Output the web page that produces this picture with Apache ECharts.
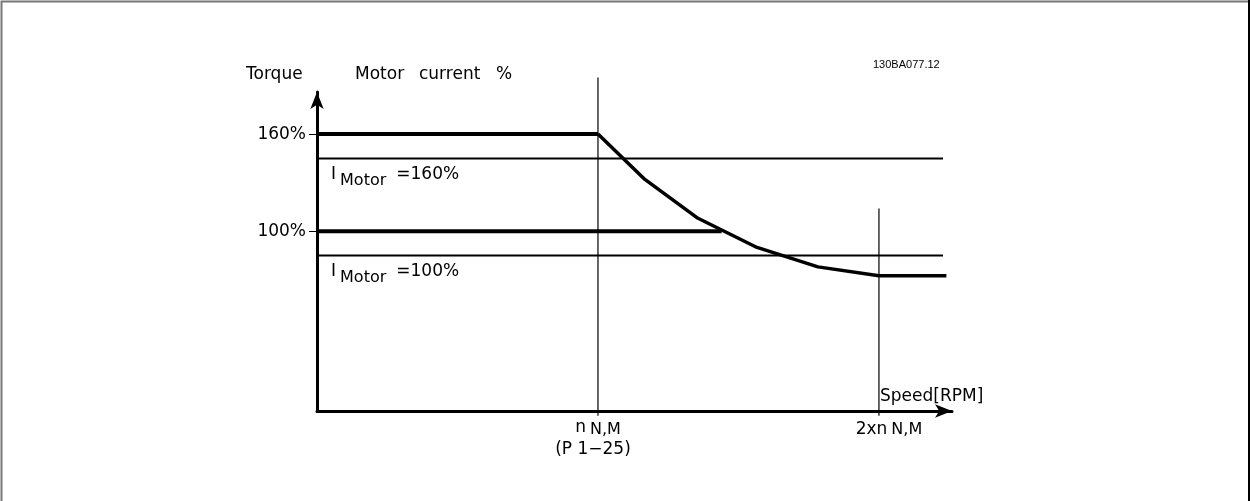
<!DOCTYPE html>
<html lang="en">

<head>
  <meta charset="UTF-8">
  <title>Torque / motor current vs speed</title>
  <style media="screen">
    html, body { margin: 0; padding: 0; background: #fff; }
  </style>
</head>

<body>
  <div id="main" style="width:1250px;height:501px;"></div>
</body>
<script src="https://cdn.jsdelivr.net/npm/echarts@6/dist/echarts.min.js"></script>

<script>
  // speed is given in multiples of n N,M, torque in % (schematic scale)
  var torqueTicks = [100, 160];
  var torqueFlat = [160, 100];          // thick torque lines
  var torqueFlatEnd = [1, 1.44];        // speed where each thick line stops
  var currentLimits = [145, 85];        // I Motor = 160% / 100% lines
  var currentLimitEnd = 2.228;
  var curveSpeed = [1, 1.167, 1.356, 1.566, 1.783, 2, 2.24];
  var curveTorque = [160, 132, 108, 90, 78, 72.5, 72.5];
  var speedMarks = [1, 2];
  var speedMarkTops = [195, 114];
  var limitLabels = ['160%', '100%'];

  var font = '"DejaVu Sans", sans-serif';

  var myChart = echarts.init(document.getElementById('main'));

  function seg(data, width, z) {
    return {
      type: 'line',
      data: data,
      symbol: 'none',
      clip: false,
      silent: true,
      z: z || 2,
      lineStyle: { color: '#000', width: width, cap: 'butt', join: 'round' }
    };
  }

  var series = [];
  torqueFlat.forEach(function (v, i) {
    series.push(seg([[0, v], [torqueFlatEnd[i], v]], 4, 3));
  });
  currentLimits.forEach(function (v) {
    series.push(seg([[0, v], [currentLimitEnd, v]], 2));
  });
  speedMarks.forEach(function (s, i) {
    series.push(seg([[s, -14], [s, speedMarkTops[i]]], 1.2));
  });
  series.push(seg(curveSpeed.map(function (s, i) {
    return [s, curveTorque[i]];
  }), 3.5, 4));

  // "I Motor =xxx%" notes, anchored at the current limit lines
  currentLimits.forEach(function (v, i) {
    series.push({
      type: 'scatter',
      symbolSize: 0,
      silent: true,
      itemStyle: { opacity: 1 },
      data: [[0.05, v]],
      label: {
        show: true,
        position: 'inside',
        align: 'left',
        verticalAlign: 'top',
        offset: [0, 8],
        color: '#000',
        formatter: '{i|I}{m|Motor}{e|=' + limitLabels[i] + '}',
        rich: {
          i: { fontFamily: font, fontSize: 17, color: '#000', padding: [0, 4, 6, 0] },
          m: { fontFamily: font, fontSize: 16, color: '#000', padding: [6, 10, 0, 0] },
          e: { fontFamily: font, fontSize: 17, color: '#000', padding: [0, 0, 6, 0] }
        }
      }
    });
  });

  var arrowLine = {
    onZero: false,
    lineStyle: { color: '#000', width: 3 },
    symbol: ['none', 'arrow'],
    symbolSize: [10, 17],
    symbolOffset: [0, 0]
  };

  myChart.setOption({
    backgroundColor: '#fff',
    animation: false,
    grid: { left: 317, top: 92, right: 298, bottom: 90 },
    xAxis: {
      type: 'value',
      min: 0,
      max: 2.26,
      splitLine: { show: false },
      axisLine: arrowLine,
      axisTick: { show: false },
      axisLabel: {
        customValues: speedMarks,
        margin: 9,
        color: '#000',
        fontFamily: font,
        formatter: function (v) {
          if (v === 1) return '{n|n}{s|N,M}\n{p|(P 1\u221225)}';
          return '{t|2xn}{s|N,M}';
        },
        rich: {
          n: { fontFamily: font, fontSize: 17, lineHeight: 20, color: '#000', padding: [0, 4, 4, 0] },
          s: { fontFamily: font, fontSize: 16, lineHeight: 20, color: '#000' },
          t: { fontFamily: font, fontSize: 17, lineHeight: 20, color: '#000', padding: [0, 4, 0, 20] },
          p: { fontFamily: font, fontSize: 17, lineHeight: 20, color: '#000', padding: [0, 10, 0, 0] }
        }
      }
    },
    yAxis: {
      type: 'value',
      min: -11,
      max: 186,
      splitLine: { show: false },
      axisLine: arrowLine,
      axisTick: {
        customValues: torqueTicks,
        length: 8,
        lineStyle: { color: '#000', width: 1 }
      },
      axisLabel: {
        customValues: torqueTicks,
        margin: 11,
        color: '#000',
        fontFamily: font,
        fontSize: 17,
        formatter: '{value}%'
      }
    },
    graphic: [
      { type: 'rect', shape: { x: 1.5, y: 1.5, width: 1250, height: 520 },
        style: { fill: 'none', stroke: '#777', lineWidth: 2 } },
      { type: 'line', shape: { x1: 1249, y1: 0, x2: 1249, y2: 501 },
        style: { stroke: '#000', lineWidth: 2 } },
      { type: 'text', left: 246, top: 66,
        style: { text: 'Torque', font: '17px ' + font, fill: '#000' } },
      { type: 'text', left: 355, top: 66,
        style: { text: 'Motor', font: '17px ' + font, fill: '#000' } },
      { type: 'text', left: 419, top: 66,
        style: { text: 'current', font: '17px ' + font, fill: '#000' } },
      { type: 'text', left: 496, top: 66,
        style: { text: '%', font: '17px ' + font, fill: '#000' } },
      { type: 'text', left: 873, top: 59,
        style: { text: '130BA077.12', font: '11px "Liberation Sans", sans-serif', fill: '#000' } },
      { type: 'text', left: 880, top: 388,
        style: { text: 'Speed[RPM]', font: '17px ' + font, fill: '#000' } }
    ],
    series: series
  });
</script>

</html>
